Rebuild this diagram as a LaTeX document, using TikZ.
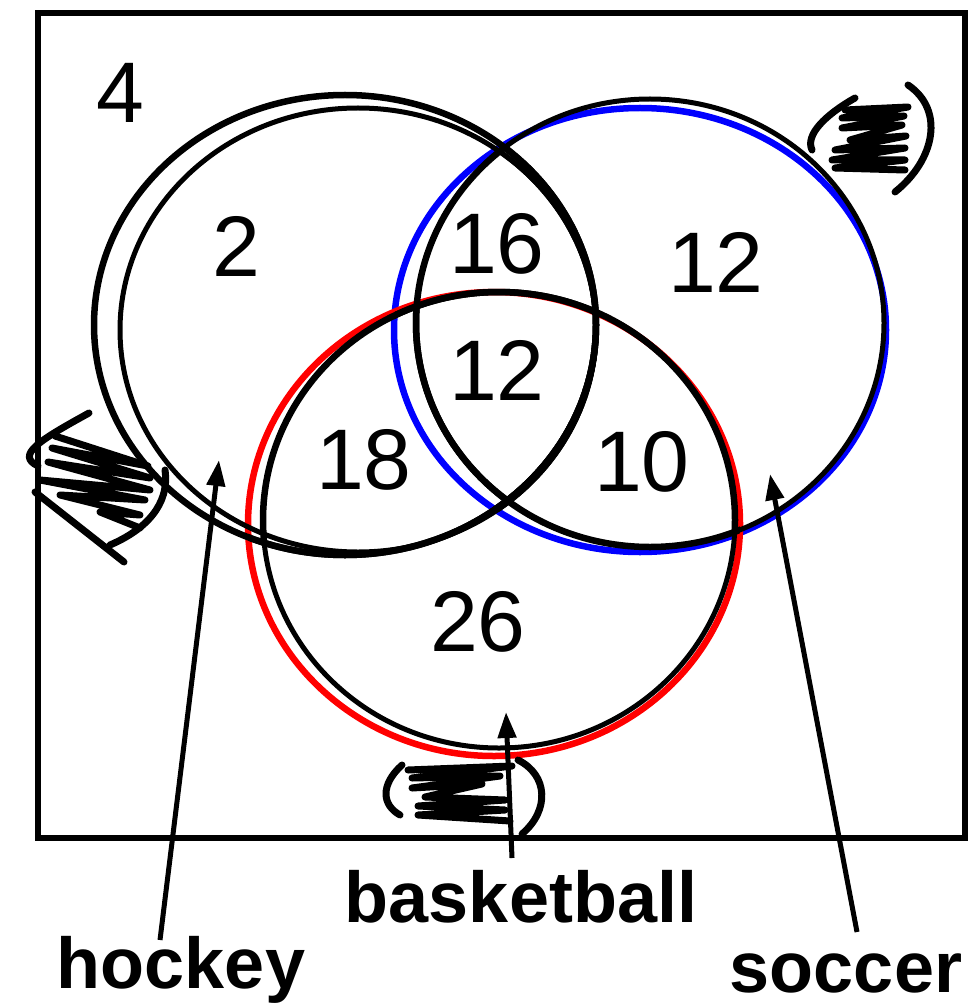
\documentclass[tikz,border=0pt]{standalone}
\usepackage{fontspec}
\setmainfont{Liberation Sans}
\usetikzlibrary{arrows.meta}
\definecolor{pred}{RGB}{255,0,0}
\definecolor{pblue}{RGB}{0,0,255}
\tikzset{
  pen/.style={line width=6.5pt, line cap=round, line join=round},
  thinpen/.style={line width=5pt, line cap=round, line join=round},
  digit/.style={font=\fontsize{86}{86}\selectfont, inner sep=0pt},
  lbl/.style={font=\bfseries\fontsize{72}{72}\selectfont, inner sep=0pt, anchor=base},
  arr/.style={line width=5pt, -{Triangle[length=26pt,width=18pt]}},
  scr/.style={line width=7pt, line cap=round, line join=round},
}
\def\Hone{(345,325) ellipse [x radius=251pt, y radius=230pt]}
\def\Htwo{(358,330) ellipse [x radius=238pt, y radius=222pt]}
\def\Sblue{(640,330) ellipse [x radius=246pt, y radius=222pt]}
\def\Sblack{(650,323) ellipse [x radius=234pt, y radius=224pt]}
\def\Bred{(494,524) ellipse [x radius=246pt, y radius=232pt]}
\def\Bblack{(499,520) ellipse [x radius=236pt, y radius=228pt]}
\begin{document}
\begin{tikzpicture}[x=1pt,y=-1pt]
\useasboundingbox (0,0) rectangle (977,1008);
% frame
\draw[line width=6pt] (38,13) rectangle (965,838);
% colored circles
\draw[pen,pblue] \Sblue;
\draw[pen,pred] \Bred;
% black circles
\draw[pen] \Hone;
\draw[thinpen] \Htwo;
\draw[thinpen] \Sblack;
\draw[thinpen] \Bblack;
% bold lens outlines
\begin{scope}
  \clip \Sblue;
  \draw[pen] \Hone;
  \draw[thinpen] \Htwo;
  \draw[pen] \Bblack;
\end{scope}
\begin{scope}
  \clip \Hone;
  \draw[pen] \Sblack;
  \draw[pen] \Bblack;
\end{scope}
\begin{scope}
  \clip \Bred;
  \draw[pen] \Hone;
  \draw[pen] \Sblack;
\end{scope}
% region numbers
\node[digit] (n4)  at (120,93)  {4};
\node[digit] (n2)  at (236,246) {2};
\node[digit] (n16) at (497,244) {16};
\node[digit] (n12a) at (716,262) {12};
\node[digit] (n12b) at (497,370) {12};
\node[digit] (n18) at (364,460) {18};
\node[digit] (n10) at (642,462) {10};
\node[digit] (n26) at (478,622) {26};
% crossed-out totals
\draw[scr] (89,413) .. controls (40,440) and (15,455) .. (38,466);
\draw[scr] (55,436) -- (148,466) -- (52,448) -- (150,478) -- (48,462) -- (150,490) -- (40,480) -- (145,500) -- (60,495) -- (140,515) -- (100,512) -- (140,528);
\draw[scr] (165,470) .. controls (170,505) and (145,530) .. (110,545);
\draw[scr] (35,492) -- (124,562);
\draw[scr] (855,98) .. controls (825,115) and (805,135) .. (812,150);
\draw[scr] (845,110) -- (908,107) -- (842,118) -- (904,116) -- (842,128) -- (902,125) -- (850,140) -- (906,136) -- (835,150) -- (905,148) -- (832,160) -- (905,160) -- (835,168) -- (905,170);
\draw[scr] (908,85) .. controls (945,110) and (935,160) .. (895,192);
\draw[scr] (402,765) .. controls (380,785) and (382,805) .. (400,815);
\draw[scr] (408,770) -- (512,766) -- (412,778) -- (500,776) -- (412,788) -- (482,784) -- (425,797) -- (505,800) -- (418,806) -- (505,810) -- (418,815) -- (510,821);
\draw[scr] (518,760) .. controls (548,775) and (550,810) .. (522,834);
% labels and arrows
\node[lbl] (hockey) at (181,988) {hockey};
\node[lbl] (basket) at (521,922) {basketball};
\node[lbl] (soccer) at (846,992) {soccer};
\coordinate (hkA) at (160,940);
\coordinate (hkB) at (219,460);
\coordinate (bkA) at (512,858);
\coordinate (bkB) at (506,712);
\coordinate (scA) at (857,932);
\coordinate (scB) at (770,474);
\draw[arr] (hkA) -- (hkB);
\draw[arr] (bkA) -- (bkB);
\draw[arr] (scA) -- (scB);
\end{tikzpicture}
\end{document}
